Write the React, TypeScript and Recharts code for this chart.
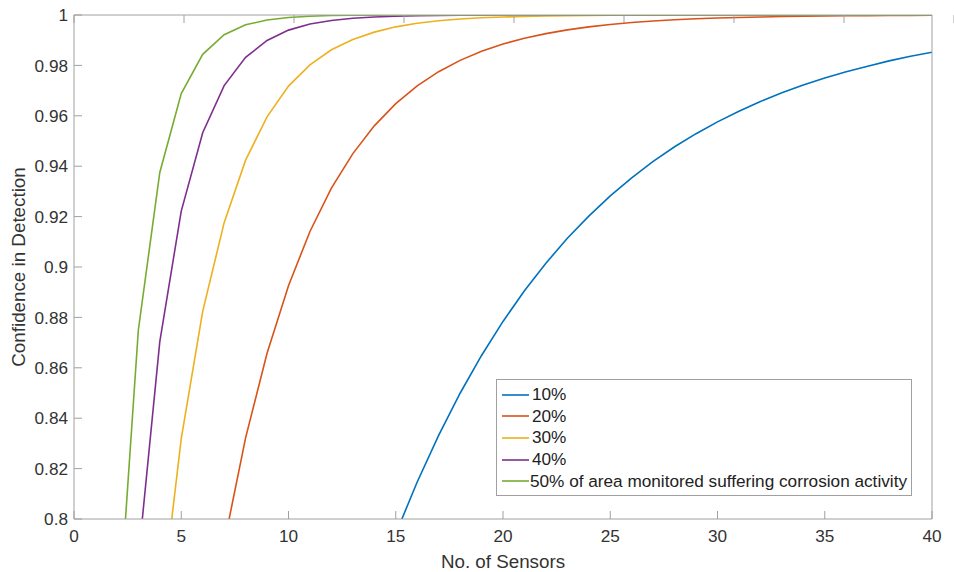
import { LineChart, Line, XAxis, YAxis, Legend, Label } from 'recharts'

const sensors = [
  1, 2, 3, 4, 5, 6, 7, 8, 9, 10, 11, 12, 13, 14, 15, 16, 17, 18, 19, 20,
  21, 22, 23, 24, 25, 26, 27, 28, 29, 30, 31, 32, 33, 34, 35, 36, 37, 38, 39, 40
]

// confidence in detection per number of sensors (values under 0.8 sit outside the view)
const area10 = [
  null, null, null, null, null, null, null, null, null, null, null, null, null, null,
  0.7941, 0.8147, 0.8332, 0.8499, 0.8649, 0.8784, 0.8906, 0.9015, 0.9114, 0.9202, 0.9282,
  0.9354, 0.9419, 0.9477, 0.9529, 0.9576, 0.9618, 0.9657, 0.9691, 0.9722, 0.975, 0.9775,
  0.9797, 0.9818, 0.9836, 0.9852
]
const area20 = [
  null, null, null, null, null, null,
  0.7903, 0.8322, 0.8658, 0.8926, 0.9141, 0.9313, 0.945, 0.956, 0.9648, 0.9719, 0.9775,
  0.982, 0.9856, 0.9885, 0.9908, 0.9926, 0.9941, 0.9953, 0.9962, 0.997, 0.9976, 0.9981,
  0.9985, 0.9988, 0.999, 0.9992, 0.9994, 0.9995, 0.9996, 0.9997, 0.9997, 0.9998, 0.9998, 0.9999
]
const area30 = [
  null, null, null,
  0.7599, 0.8319, 0.8824, 0.9176, 0.9424, 0.9596, 0.9718, 0.9802, 0.9862, 0.9903, 0.9932,
  0.9953, 0.9967, 0.9977, 0.9984, 0.9989, 0.9992, 0.9994, 0.9996, 0.9997, 0.9998, 0.9999,
  0.9999, 0.9999, 1, 1, 1, 1, 1, 1, 1, 1, 1, 1, 1, 1, 1
]
const area40 = [
  null, null,
  0.784, 0.8704, 0.9222, 0.9533, 0.972, 0.9832, 0.9899, 0.994, 0.9964, 0.9978, 0.9987,
  0.9992, 0.9995, 0.9997, 0.9998, 0.9999, 0.9999, 1, 1, 1, 1, 1, 1, 1, 1, 1, 1, 1,
  1, 1, 1, 1, 1, 1, 1, 1, 1, 1
]
const area50 = [
  null,
  0.75, 0.875, 0.9375, 0.9688, 0.9844, 0.9922, 0.9961, 0.998, 0.999, 0.9995, 0.9998,
  0.9999, 0.9999, 1, 1, 1, 1, 1, 1, 1, 1, 1, 1, 1, 1, 1, 1, 1, 1,
  1, 1, 1, 1, 1, 1, 1, 1, 1, 1
]

const seriesNames = [
  '10%',
  '20%',
  '30%',
  '40%',
  '50% of area monitored suffering corrosion activity'
]
const xTicks = [0, 5, 10, 15, 20, 25, 30, 35, 40]
const yTicks = [0.8, 0.82, 0.84, 0.86, 0.88, 0.9, 0.92, 0.94, 0.96, 0.98, 1]

const colors = ['#0072BD', '#D95319', '#EDB120', '#7E2F8E', '#77AC30']
const font = '"Liberation Sans", Arial, Helvetica, sans-serif'
const axisColor = '#a0a0a0'
const textColor = '#333'
const tickFont = 17.2
const labelFont = 18.8

const data = sensors.map((n, i) => ({
  n,
  a10: area10[i],
  a20: area20[i],
  a30: area30[i],
  a40: area40[i],
  a50: area50[i]
}))

const keys = ['a10', 'a20', 'a30', 'a40', 'a50']

const renderLegend = ({ payload }: any) => (
  <div
    style={{
      border: `1px solid ${axisColor}`,
      background: '#fff',
      padding: '4px 4px 3px 5px',
      fontFamily: font,
      fontSize: tickFont,
      color: '#222',
      boxSizing: 'border-box'
    }}
  >
    {(payload || []).map((p: any) => (
      <div
        key={p.value}
        style={{ display: 'flex', alignItems: 'center', height: 21.6, whiteSpace: 'nowrap' }}
      >
        <svg width={29} height={4} style={{ marginRight: 1 }}>
          <line x1={0} y1={2} x2={27} y2={2} stroke={p.color} strokeWidth={1.6} />
        </svg>
        {p.value}
      </div>
    ))}
  </div>
)

const yLabel = ({ viewBox }: any) => {
  const x = viewBox.x + 20
  const y = viewBox.y + viewBox.height / 2
  return (
    <text
      x={x}
      y={y}
      transform={`rotate(-90 ${x} ${y})`}
      textAnchor='middle'
      dominantBaseline='middle'
      fill={textColor}
      fontSize={labelFont}
      fontFamily={font}
    >
      Confidence in Detection
    </text>
  )
}

const fmtY = (v: number) => String(Number(v.toFixed(2)))
const blank = () => ''

export default function App () {
  const tickStyle = { fontSize: tickFont, fill: textColor, fontFamily: font }
  return (
    <div style={{ position: 'absolute', left: 0, top: 0, background: '#fff' }}>
      <LineChart
        width={954}
        height={572}
        data={data}
        margin={{ top: 0, right: 0, bottom: 0, left: 0 }}
        style={{ fontFamily: font }}
      >
        <XAxis
          dataKey='n'
          type='number'
          domain={[0, 40]}
          ticks={xTicks}
          interval={0}
          allowDataOverflow
          height={53}
          stroke={axisColor}
          tickSize={-8}
          tickMargin={19}
          tick={tickStyle}
        >
          <Label
            value='No. of Sensors'
            position='insideBottom'
            offset={4}
            fill={textColor}
            fontSize={labelFont}
            fontFamily={font}
          />
        </XAxis>
        <XAxis
          xAxisId='top'
          orientation='top'
          type='number'
          domain={[0, 40]}
          ticks={xTicks}
          interval={0}
          height={15}
          stroke={axisColor}
          tickSize={-8}
          tickFormatter={blank}
        />
        <YAxis
          type='number'
          domain={[0.8, 1]}
          ticks={yTicks}
          interval={0}
          allowDataOverflow
          width={74}
          stroke={axisColor}
          tickSize={-8}
          tickMargin={14}
          tickFormatter={fmtY}
          tick={tickStyle}
        >
          <Label content={yLabel} />
        </YAxis>
        <YAxis
          yAxisId='right'
          orientation='right'
          type='number'
          domain={[0.8, 1]}
          ticks={yTicks}
          interval={0}
          width={22}
          stroke={axisColor}
          tickSize={-8}
          tickFormatter={blank}
        />
        <Legend
          layout='vertical'
          align='center'
          verticalAlign='middle'
          content={renderLegend}
          wrapperStyle={{ left: 496, top: 379, width: 416, bottom: 'auto', right: 'auto' }}
        />
        {keys.map((k, i) => (
          <Line
            key={k}
            dataKey={k}
            name={seriesNames[i]}
            stroke={colors[i]}
            strokeWidth={1.6}
            dot={false}
            activeDot={false}
            isAnimationActive={false}
            connectNulls={false}
          />
        ))}
      </LineChart>
    </div>
  )
}
